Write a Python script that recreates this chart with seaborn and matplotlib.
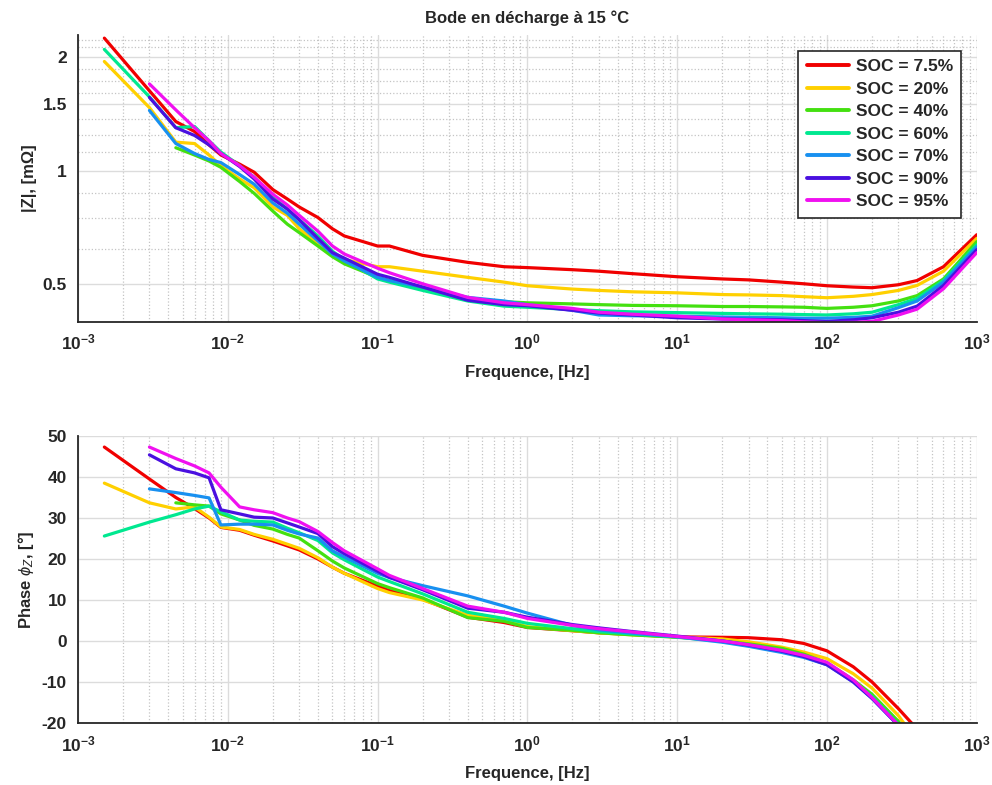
"""
Bode plot (|Z| and phase) in discharge at 15 degC for several SOC levels
"""

import numpy as np
import pandas as pd
import matplotlib
matplotlib.use('Agg')
import matplotlib.pyplot as plt
import seaborn as sns
from matplotlib.ticker import FixedLocator, NullFormatter

# Frequencies [Hz]
freq = [1.5e-3, 3e-3, 4.5e-3, 6e-3, 7.5e-3, 9e-3, 0.012, 0.015, 0.02, 0.025,
        0.03, 0.04, 0.05, 0.06, 0.1, 0.12, 0.2, 0.4, 0.7, 1, 2, 3, 5, 10,
        20, 30, 50, 70, 100, 150, 200, 300, 400, 600, 1000]

soc_labels = ['SOC = 7.5%', 'SOC = 20%', 'SOC = 40%', 'SOC = 60%',
              'SOC = 70%', 'SOC = 90%', 'SOC = 95%']
soc_colors = ['#f00000', '#ffd000', '#44e010', '#00e890', '#1890f0',
              '#4a10e0', '#f010f0']

nan = np.nan

# |Z| [mOhm]
z_soc_7_5 = [2.25, 1.63, 1.35, 1.27, 1.17, 1.10, 1.04, 0.99, 0.89, 0.84, 0.80,
             0.75, 0.70, 0.67, 0.63, 0.63, 0.595, 0.57, 0.555, 0.552, 0.545,
             0.54, 0.532, 0.522, 0.515, 0.512, 0.505, 0.50, 0.494, 0.49, 0.488,
             0.497, 0.51, 0.555, 0.675]
z_soc_20 = [1.95, 1.47, 1.19, 1.18, 1.10, 1.03, 0.95, 0.90, 0.80, 0.76, 0.70,
            0.64, 0.60, 0.58, 0.555, 0.555, 0.54, 0.52, 0.505, 0.494, 0.484,
            0.48, 0.476, 0.473, 0.468, 0.467, 0.465, 0.462, 0.459, 0.463, 0.468,
            0.48, 0.495, 0.54, 0.66]
z_soc_40 = [nan, nan, 1.15, 1.10, 1.06, 1.02, 0.935, 0.87, 0.78, 0.72, 0.684,
            0.63, 0.59, 0.565, 0.52, 0.51, 0.485, 0.455, 0.448, 0.445, 0.442,
            0.44, 0.438, 0.437, 0.435, 0.435, 0.434, 0.433, 0.43, 0.433, 0.437,
            0.45, 0.465, 0.515, 0.647]
z_soc_60 = [2.10, 1.57, 1.30, 1.31, 1.20, 1.12, 1.03, 0.96, 0.85, 0.79, 0.74,
            0.67, 0.61, 0.58, 0.515, 0.505, 0.48, 0.45, 0.436, 0.433, 0.427,
            0.424, 0.421, 0.419, 0.417, 0.416, 0.415, 0.414, 0.413, 0.416, 0.42,
            0.44, 0.457, 0.51, 0.635]
z_soc_70 = [nan, 1.445, 1.18, 1.11, 1.07, 1.05, 0.976, 0.92, 0.82, 0.77, 0.72,
            0.65, 0.60, 0.575, 0.52, 0.51, 0.49, 0.46, 0.45, 0.44, 0.425,
            0.413, 0.411, 0.41, 0.408, 0.407, 0.406, 0.405, 0.405, 0.407, 0.41,
            0.432, 0.45, 0.505, 0.627]
z_soc_90 = [nan, 1.565, 1.30, 1.24, 1.17, 1.11, 1.025, 0.95, 0.84, 0.79, 0.74,
            0.66, 0.605, 0.585, 0.53, 0.52, 0.49, 0.452, 0.44, 0.437, 0.425,
            0.418, 0.413, 0.406, 0.403, 0.402, 0.401, 0.399, 0.397, 0.401, 0.406,
            0.42, 0.436, 0.495, 0.616]
z_soc_95 = [nan, 1.70, 1.45, 1.30, 1.20, 1.11, 1.03, 0.96, 0.865, 0.81, 0.76,
            0.69, 0.63, 0.60, 0.55, 0.535, 0.50, 0.46, 0.445, 0.44, 0.43,
            0.42, 0.415, 0.41, 0.403, 0.401, 0.399, 0.396, 0.394, 0.395, 0.397,
            0.413, 0.428, 0.485, 0.605]

# Phase [deg]
ph_soc_7_5 = [47.3, 39.5, 35.0, 32.3, 30.0, 27.7, 27.0, 25.8, 24.4, 23.2, 22.2,
              20.0, 18.0, 16.5, 13.4, 12.3, 10.2, 5.8, 4.5, 3.3, 2.5, 2.0, 1.6,
              1.0, 0.9, 0.8, 0.3, -0.6, -2.4, -6.3, -10.0, -16.5, -21.5, -30.0,
              -45.0]
ph_soc_20 = [38.5, 33.7, 32.2, 32.7, 30.2, 27.8, 27.2, 26.0, 24.8, 23.6, 22.6,
             20.3, 18.0, 16.5, 12.8, 11.8, 10.0, 6.3, 5.0, 3.5, 2.5, 2.0, 1.5,
             1.0, 0.5, -0.2, -1.5, -2.7, -4.3, -8.0, -11.5, -18.2, -24.5, -35.0,
             -50.0]
ph_soc_40 = [nan, nan, 33.7, 33.2, 32.9, 31.0, 29.5, 28.2, 27.3, 26.0, 25.1,
             22.0, 19.5, 17.8, 14.0, 13.0, 10.5, 5.7, 4.8, 3.3, 2.6, 2.0, 1.5,
             0.9, 0.0, -0.7, -1.8, -3.2, -5.3, -9.5, -13.0, -19.6, -26.0, -38.0,
             -52.0]
ph_soc_60 = [25.6, 29.0, 30.8, 32.2, 32.9, 31.5, 29.5, 29.2, 29.0, 27.5, 26.4,
             24.5, 21.5, 19.8, 15.6, 14.5, 11.5, 7.0, 5.5, 4.3, 3.0, 2.3, 1.7,
             1.0, 0.0, -1.0, -2.5, -3.6, -5.5, -9.8, -13.5, -20.3, -28.0, -40.0,
             -55.0]
ph_soc_70 = [nan, 37.1, 36.2, 35.5, 34.9, 28.3, 28.5, 28.5, 28.3, 27.0, 26.1,
             25.1, 22.0, 20.5, 16.5, 15.5, 13.5, 11.0, 8.5, 6.8, 3.8, 2.7, 1.9,
             1.0, -0.3, -1.3, -2.8, -4.0, -5.8, -10.0, -14.0, -20.6, -28.5, -40.0,
             -55.0]
ph_soc_90 = [nan, 45.4, 42.0, 41.0, 39.8, 32.0, 31.0, 30.2, 30.0, 28.8, 27.8,
             26.2, 23.0, 21.3, 17.0, 15.5, 12.5, 8.0, 7.0, 5.8, 4.0, 3.2, 2.3,
             1.2, 0.0, -1.0, -2.5, -3.8, -5.8, -10.0, -14.0, -20.6, -28.5, -40.0,
             -55.0]
ph_soc_95 = [nan, 47.3, 44.5, 42.7, 41.0, 37.5, 32.7, 32.0, 31.3, 30.0, 29.1,
             26.7, 24.0, 22.0, 17.6, 16.0, 12.8, 8.5, 7.0, 5.5, 3.8, 3.0, 2.2,
             1.1, 0.0, -0.9, -2.3, -3.5, -5.2, -9.5, -13.8, -20.5, -28.0, -40.0,
             -55.0]

z_series = [z_soc_7_5, z_soc_20, z_soc_40, z_soc_60, z_soc_70, z_soc_90, z_soc_95]
ph_series = [ph_soc_7_5, ph_soc_20, ph_soc_40, ph_soc_60, ph_soc_70, ph_soc_90, ph_soc_95]


def build_frame():
    """Long-form table: one row per (SOC, frequency)."""
    rows = []
    for label, z, ph in zip(soc_labels, z_series, ph_series):
        for f, zv, pv in zip(freq, z, ph):
            rows.append({'SOC': label, 'freq': f, 'Z': zv, 'phase': pv})
    return pd.DataFrame(rows)


def style_log_x(ax):
    decades = [1e-3, 1e-2, 1e-1, 1e0, 1e1, 1e2, 1e3]
    ax.set_xscale('log')
    ax.set_xlim(1e-3, 1e3)
    ax.xaxis.set_major_locator(FixedLocator(decades))
    ax.set_xticklabels([r'$\mathbf{10^{%d}}$' % e for e in range(-3, 4)])
    minors = [m * d for d in decades[:-1] for m in range(2, 10)]
    ax.xaxis.set_minor_locator(FixedLocator(minors))
    ax.xaxis.set_minor_formatter(NullFormatter())
    ax.set_xlabel('Frequence, [Hz]', fontweight='bold', fontsize=12, labelpad=9)


def style_axes(ax):
    for side in ['top', 'right']:
        ax.spines[side].set_visible(False)
    for side in ['left', 'bottom']:
        ax.spines[side].set_color('#262626')
        ax.spines[side].set_linewidth(1.3)
    ax.tick_params(which='major', direction='in', length=6, width=1.2,
                   labelsize=12.5, colors='#262626', pad=8)
    ax.tick_params(which='minor', direction='in', length=3.5, width=1.0,
                   colors='#262626')
    for lbl in ax.get_yticklabels():
        lbl.set_fontweight('bold')
    ax.grid(which='major', color='#dcdcdc', linestyle='-', linewidth=1.0)
    ax.grid(which='minor', color='#c4c4c4', linestyle=':', linewidth=0.9)
    ax.set_axisbelow(True)


def main():
    sns.set_theme(style='white')
    plt.rcParams['font.family'] = ['Liberation Sans', 'DejaVu Sans']
    plt.rcParams['axes.unicode_minus'] = False
    plt.rcParams['mathtext.fontset'] = 'custom'
    plt.rcParams['mathtext.rm'] = 'Liberation Sans'
    plt.rcParams['mathtext.bf'] = 'Liberation Sans:bold'
    plt.rcParams['mathtext.it'] = 'Liberation Sans:italic'

    df = build_frame()
    palette = dict(zip(soc_labels, soc_colors))

    fig = plt.figure(figsize=(9.92, 7.85), dpi=100)
    ax1 = fig.add_axes([0.0786, 0.590, 0.906, 0.366])
    ax2 = fig.add_axes([0.0786, 0.079, 0.906, 0.3656])

    # Magnitude
    sns.lineplot(data=df.dropna(subset=['Z']), x='freq', y='Z', hue='SOC',
                 hue_order=soc_labels, palette=palette, estimator=None,
                 sort=False, linewidth=2.3, ax=ax1)
    style_log_x(ax1)
    ax1.set_yscale('log')
    ax1.set_ylim(0.396, 2.3)
    ax1.yaxis.set_major_locator(FixedLocator([0.5, 1, 1.5, 2]))
    ax1.set_yticklabels(['0.5', '1', '1.5', '2'])
    ax1.yaxis.set_minor_locator(FixedLocator([0.62, 0.75, 0.874, 1.12, 1.24, 1.37,
                                              1.61, 1.73, 1.86, 2.13, 2.23]))
    ax1.yaxis.set_minor_formatter(NullFormatter())
    ax1.set_ylabel('|Z|, [m\u03a9]', fontweight='bold', fontsize=12, labelpad=4)
    ax1.set_title('Bode en d\u00e9charge \u00e0 15 \u00b0C', fontweight='bold',
                  fontsize=12, pad=8)
    style_axes(ax1)
    leg = ax1.legend(loc='upper right', bbox_to_anchor=(0.983, 0.944),
                     borderaxespad=0, fancybox=False, framealpha=1,
                     edgecolor='#262626', handlelength=2.4, handletextpad=0.4,
                     labelspacing=0.42, borderpad=0.5,
                     prop={'weight': 'bold', 'size': 12.5}, title=None)
    leg.get_frame().set_linewidth(1.2)
    for line in leg.get_lines():
        line.set_linewidth(2.8)

    # Phase
    sns.lineplot(data=df.dropna(subset=['phase']), x='freq', y='phase', hue='SOC',
                 hue_order=soc_labels, palette=palette, estimator=None,
                 sort=False, linewidth=2.3, legend=False, ax=ax2)
    style_log_x(ax2)
    ax2.set_ylim(-20, 50)
    ax2.set_yticks(range(-20, 51, 10))
    ax2.set_ylabel('Phase $\\phi_Z$, [\u00b0]', fontweight='bold', fontsize=12,
                   labelpad=4)
    style_axes(ax2)
    ax2.grid(which='minor', axis='y', visible=False)

    fig.savefig('out.png', dpi=100)
    plt.close(fig)


if __name__ == "__main__":
    main()
